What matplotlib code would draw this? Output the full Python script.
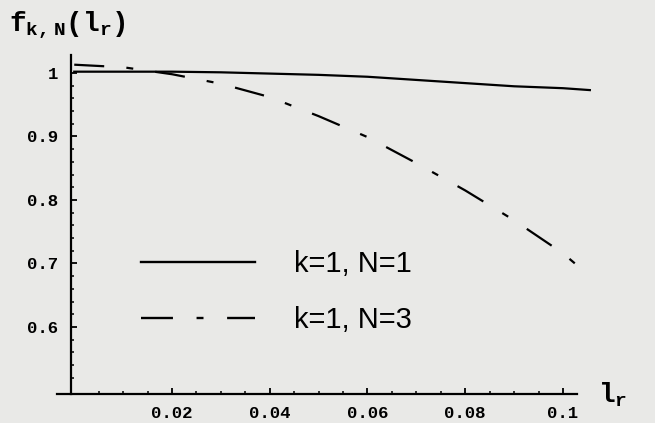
import matplotlib
matplotlib.use('Agg')
import matplotlib.pyplot as plt
from matplotlib.lines import Line2D

# values
l_r = [0.0, 0.01, 0.02, 0.03, 0.04, 0.05, 0.06, 0.07, 0.08, 0.09, 0.1, 0.1055]
f_n1 = [1.002, 1.002, 1.002, 1.001, 0.999, 0.997, 0.994, 0.989, 0.984, 0.979, 0.976, 0.973]
f_n3 = [1.013, 1.009, 0.998, 0.983, 0.962, 0.932, 0.899, 0.858, 0.815, 0.768, 0.716, 0.68]

x_ticks = [0.02, 0.04, 0.06, 0.08, 0.1]
x_labels = ['0.02', '0.04', '0.06', '0.08', '0.1']
y_ticks = [0.6, 0.7, 0.8, 0.9, 1.0]
y_labels = ['0.6', '0.7', '0.8', '0.9', '1']
legend_labels = ['k=1, N=1', 'k=1, N=3']

plt.rcParams['lines.scale_dashes'] = False
plt.rcParams['mathtext.fontset'] = 'custom'
plt.rcParams['mathtext.rm'] = 'Liberation Mono:bold'

bg = '#e9e9e7'
fig = plt.figure(figsize=(6.55, 4.23), dpi=100, facecolor=bg)
ax = fig.add_axes([0.0835, 0.0686, 0.8357, 0.819])
ax.set_facecolor(bg)
ax.set_xlim(-0.004, 0.108)
ax.set_ylim(0.4945, 1.04)

dash = (0, (21.6, 16, 5, 16))
ax.plot(l_r, f_n1, color='black', lw=1.6, clip_on=False)
ax.plot(l_r, f_n3, color='black', lw=1.6, linestyle=dash, clip_on=False)

for s in ['top', 'right']:
    ax.spines[s].set_visible(False)
ax.spines['left'].set_position(('data', -0.0007))
ax.spines['left'].set_bounds(0.4945, 1.028)
ax.spines['bottom'].set_bounds(-0.0035, 0.1029)
ax.spines['left'].set_linewidth(1.6)
ax.spines['bottom'].set_linewidth(1.6)

ax.set_xticks(x_ticks)
ax.set_xticklabels(x_labels)
ax.set_xticks([i * 0.005 for i in range(1, 21)], minor=True)
ax.set_yticks(y_ticks)
ax.set_yticklabels(y_labels)
ax.set_yticks([0.5 + i * 0.02 for i in range(1, 26)], minor=True)
ax.tick_params(which='major', direction='in', length=4, width=1.3, pad=9,
               labelsize=12.5)
ax.tick_params(which='minor', direction='in', length=2.2, width=1.1)
for t in ax.get_xticklabels() + ax.get_yticklabels():
    t.set_fontfamily('Liberation Mono')
    t.set_fontweight('bold')

handles = [Line2D([], [], color='black', lw=1.7),
           Line2D([], [], color='black', lw=1.7, linestyle=(0, (23, 17, 5, 17)))]
ax.legend(handles, legend_labels, loc='upper left', bbox_to_anchor=(0.11, 0.49),
          frameon=False, handlelength=3.9, handletextpad=1.35, labelspacing=0.95,
          prop={'family': 'Liberation Sans', 'size': 21})

fig.text(0.014, 0.978, r'$\mathrm{f}_{\mathrm{k,N}}\mathrm{(l}_{\mathrm{r}}\mathrm{)}$',
         fontsize=20, va='top', ha='left')
fig.text(0.913, 0.068, r'$\mathrm{l}_{\mathrm{r}}$', fontsize=20, va='center', ha='left')

fig.savefig('out.png', dpi=100, facecolor=bg)
